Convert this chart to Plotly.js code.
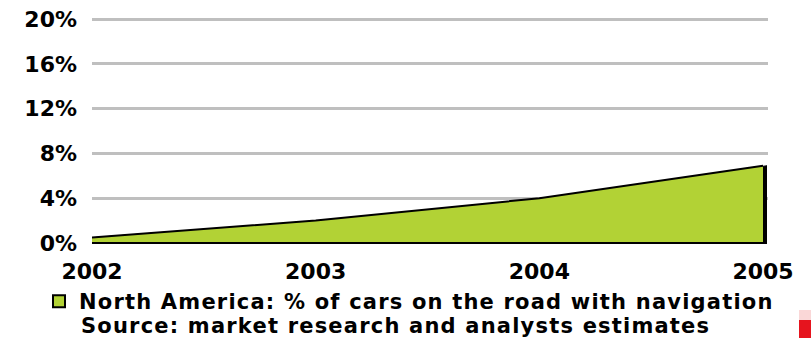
<!DOCTYPE html>
<html>
<head>
<meta charset="utf-8">
<script src="https://cdn.plot.ly/plotly-3.0.1.min.js"></script>
<style>html,body{margin:0;padding:0;background:#fff;}#chart{width:811px;height:338px;}
.legendtext,.annotation-text{letter-spacing:1.2px;}</style>
</head>
<body>
<div id="chart"></div>
<script>
const years = [2002, 2003, 2004, 2005];
const navShare = [0.5, 2.0, 4.0, 6.9];
const yTicks = [0, 4, 8, 12, 16, 20];
const yTickLabels = ['0%', '4%', '8%', '12%', '16%', '20%'];
const seriesName = 'North America: % of cars on the road with navigation';
const sourceNote = 'Source: market research and analysts estimates';

const W = 811, H = 338;
const L = 92, R = 43, T = 15, B = 95;
const pw = W - L - R, ph = H - T - B;
const y0px = 243, y20px = 19;
const pxPerY = (y0px - y20px) / 20;
const ymax = (y0px - T) / pxPerY;
const xmin = 2002, xmax = 2005 + 5 / ((763 - 92) / 3);
const pxPerX = pw / (xmax - xmin);
const sdx = 4 / pxPerX;

const green = 'rgb(178,210,53)';
const font = 'DejaVu Sans, Verdana, sans-serif';

const traces = [
  {
    x: years, y: navShare, type: 'scatter', mode: 'lines',
    xaxis: 'x', yaxis: 'y',
    fill: 'tozeroy', fillcolor: '#000', line: {color: '#000', width: 1},
    showlegend: false, hoverinfo: 'skip'
  },
  {
    x: years, y: navShare, type: 'scatter', mode: 'lines',
    xaxis: 'x2', yaxis: 'y2',
    fill: 'tozeroy', fillcolor: green, line: {color: '#000', width: 2},
    showlegend: false
  },
  {
    x: [null], y: [null], type: 'scatter', mode: 'markers', name: seriesName,
    xaxis: 'x2', yaxis: 'y2',
    marker: {symbol: 'square', size: 12, color: green, line: {color: '#000', width: 2}},
    showlegend: true
  }
];

const tickFont = {family: font, size: 22, weight: 'bold', color: '#000'};
const legFont = {family: font, size: 21, weight: 'bold', color: '#000'};

const layout = {
  width: W, height: H,
  margin: {l: L, r: R, t: T, b: B, autoexpand: false},
  paper_bgcolor: '#fff', plot_bgcolor: '#fff',
  font: {family: font, size: 20, color: '#000'},
  xaxis: {range: [xmin - sdx, xmax - sdx], visible: false, fixedrange: true},
  yaxis: {range: [0, ymax], visible: false, fixedrange: true},
  xaxis2: {
    overlaying: 'x',
    range: [xmin, xmax], tickvals: years, ticktext: years.map(String),
    showgrid: false, zeroline: false, showline: false, ticks: '',
    tickangle: 0, automargin: false,
    tickfont: tickFont, ticklabelstandoff: 13
  },
  yaxis2: {
    overlaying: 'y',
    range: [0, ymax], tickvals: yTicks, ticktext: yTickLabels,
    showgrid: true, gridcolor: '#bfbfbf', gridwidth: 3,
    zeroline: false, showline: false, ticks: '', automargin: false,
    tickfont: tickFont, ticklabelstandoff: 14
  },
  showlegend: true,
  legend: {
    xref: 'container', yref: 'container',
    x: 39 / W, y: 1 - 281 / H, xanchor: 'left', yanchor: 'top',
    valign: 'middle',
    font: legFont,
    bgcolor: 'rgba(0,0,0,0)', itemwidth: 30
  },
  annotations: [
    {
      text: sourceNote, xref: 'paper', yref: 'paper',
      x: (79 - L) / pw, y: -(326 - y0px) / ph,
      xanchor: 'left', yanchor: 'middle', showarrow: false,
      font: legFont
    }
  ],
  shapes: [
    {
      type: 'rect', xref: 'paper', yref: 'paper',
      x0: (799 - L) / pw, x1: (811 - L) / pw,
      y0: -(320 - y0px) / ph, y1: -(310 - y0px) / ph,
      fillcolor: 'rgb(250,215,215)', line: {width: 0}, layer: 'above'
    },
    {
      type: 'rect', xref: 'paper', yref: 'paper',
      x0: (799 - L) / pw, x1: (811 - L) / pw,
      y0: -(338 - y0px) / ph, y1: -(320 - y0px) / ph,
      fillcolor: 'rgb(230,20,30)', line: {width: 0}, layer: 'above'
    },
    {
      type: 'line', xref: 'paper', yref: 'paper',
      x0: 0, x1: (767 - L) / pw, y0: 0, y1: 0,
      line: {color: '#000', width: 2}, layer: 'above'
    }
  ]
};

Plotly.newPlot('chart', traces, layout, {displayModeBar: false, staticPlot: true});
</script>
</body>
</html>
